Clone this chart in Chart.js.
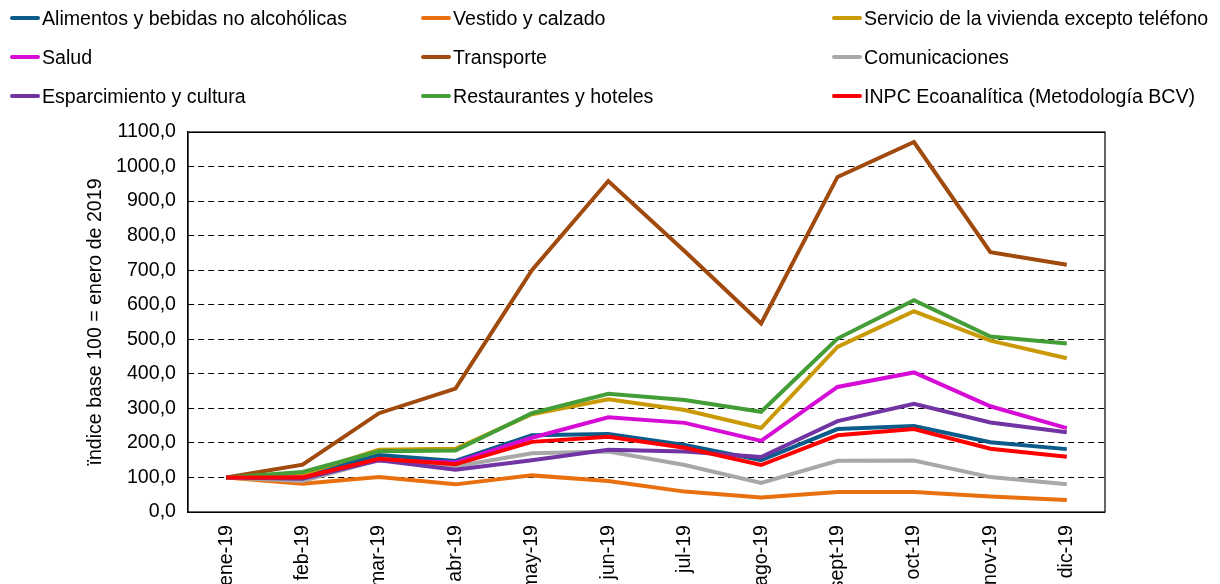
<!DOCTYPE html>
<html>
<head>
<meta charset="utf-8">
<script src="https://cdn.jsdelivr.net/npm/chart.js@4.4.1/dist/chart.umd.min.js"></script>
<style>
    html, body { margin: 0; padding: 0; background: #fff; }
    #wrap { position: relative; width: 1220px; height: 584px; overflow: hidden; }
    #chart { position: absolute; left: 0; top: 0; }
    #legend { position: absolute; left: 0; top: 0; width: 1220px; height: 120px; font-family: "Liberation Sans", Arial, sans-serif; font-size: 19.6px; color: #000; }
    .item { position: absolute; display: flex; align-items: center; white-space: nowrap; height: 24px; }
    .item span.mark { display: inline-block; width: 30px; height: 4px; border-radius: 2px; margin-right: 2px; }
</style>
</head>
<body>
<div id="wrap">
    <canvas id="chart" width="1220" height="584"></canvas>
    <div id="legend"></div>
</div>
<script>
// data
const months = ['ene-19', 'feb-19', 'mar-19', 'abr-19', 'may-19', 'jun-19', 'jul-19', 'ago-19', 'sept-19', 'oct-19', 'nov-19', 'dic-19'];

const alimentos      = [100, 105, 165, 148, 222, 226, 194, 150, 240, 249, 202, 182];
const vestido        = [100, 82, 101, 80, 106, 90, 59, 42, 58, 58, 45, 35];
const vivienda       = [100, 110, 180, 183, 283, 326, 295, 243, 478, 581, 496, 445];
const salud          = [100, 100, 150, 143, 215, 274, 258, 206, 362, 404, 306, 243];
const transporte     = [100, 137, 286, 357, 700, 958, 755, 546, 970, 1071, 752, 716];
const comunicaciones = [100, 90, 150, 132, 170, 175, 136, 84, 148, 149, 101, 80];
const esparcimiento  = [100, 96, 150, 122, 150, 180, 175, 159, 263, 313, 259, 231];
const restaurantes   = [100, 116, 176, 178, 286, 342, 324, 290, 502, 613, 508, 488];
const inpc           = [100, 100, 154, 138, 203, 218, 186, 136, 222, 240, 183, 160];

const yTicks = [0, 100, 200, 300, 400, 500, 600, 700, 800, 900, 1000, 1100];

const series = [
    { label: 'Alimentos y bebidas no alcohólicas', data: alimentos, color: '#0B5C8A' },
    { label: 'Vestido y calzado', data: vestido, color: '#E8700F' },
    { label: 'Servicio de la vivienda excepto teléfono', data: vivienda, color: '#C99A06' },
    { label: 'Salud', data: salud, color: '#D60CD6' },
    { label: 'Transporte', data: transporte, color: '#A04A0E' },
    { label: 'Comunicaciones', data: comunicaciones, color: '#A8A8A8' },
    { label: 'Esparcimiento y cultura', data: esparcimiento, color: '#7334A3' },
    { label: 'Restaurantes y hoteles', data: restaurantes, color: '#449E38' },
    { label: 'INPC Ecoanalítica (Metodología BCV)', data: inpc, color: '#FF0000' }
];

// legend (3 columns, Excel style)
const legendEl = document.getElementById('legend');
const colX = [10, 421, 832];
const rowY = [6, 45, 84];
series.forEach((s, i) => {
    const div = document.createElement('div');
    div.className = 'item';
    div.style.left = colX[i % 3] + 'px';
    div.style.top = rowY[Math.floor(i / 3)] + 'px';
    div.innerHTML = '<span class="mark" style="background:' + s.color + '"></span>' + s.label;
    legendEl.appendChild(div);
});

// frame around the plot area
const frame = {
    id: 'frame',
    afterDatasetsDraw(chart) {
        const { ctx, chartArea: a } = chart;
        ctx.save();
        ctx.strokeStyle = '#000';
        ctx.lineWidth = 1.2;
        ctx.strokeRect(a.left, a.top, a.right - a.left, a.bottom - a.top);
        ctx.restore();
    }
};

Chart.defaults.font.family = '"Liberation Sans", Arial, sans-serif';
Chart.defaults.font.size = 19.6;
Chart.defaults.color = '#000';

const ctx = document.getElementById('chart').getContext('2d');
new Chart(ctx, {
    type: 'line',
    data: {
        labels: months,
        datasets: series.map((s, i) => ({
            label: s.label,
            data: s.data,
            borderColor: s.color,
            backgroundColor: s.color,
            borderWidth: 4,
            pointRadius: 0,
            tension: 0,
            order: series.length - i
        }))
    },
    options: {
        responsive: false,
        animation: false,
        layout: {
            padding: { top: 132, right: 115, left: 84, bottom: 0 }
        },
        plugins: {
            legend: { display: false },
            tooltip: { enabled: false }
        },
        scales: {
            x: {
                offset: true,
                grid: { display: false },
                border: { display: false },
                ticks: {
                    minRotation: 90,
                    maxRotation: 90,
                    padding: 5,
                    autoSkip: false
                },
                afterFit(scale) { scale.height = 72; }
            },
            y: {
                min: 0,
                max: 1100,
                afterBuildTicks(scale) { scale.ticks = yTicks.map(v => ({ value: v })); },
                ticks: {
                    padding: 12,
                    callback: v => v.toFixed(1).replace('.', ',')
                },
                grid: {
                    color: '#000',
                    lineWidth: 1,
                    drawTicks: false
                },
                border: {
                    display: true,
                    color: '#000',
                    width: 1.2,
                    dash: c => (c.tick && (c.tick.value === 0 || c.tick.value === 1100)) ? [] : [6, 4]
                },
                title: {
                    display: true,
                    text: 'ïndice base 100 = enero de 2019',
                    padding: { top: 0, bottom: 4 }
                },
                afterFit(scale) { scale.width = 104; }
            }
        }
    },
    plugins: [frame]
});
</script>
</body>
</html>
